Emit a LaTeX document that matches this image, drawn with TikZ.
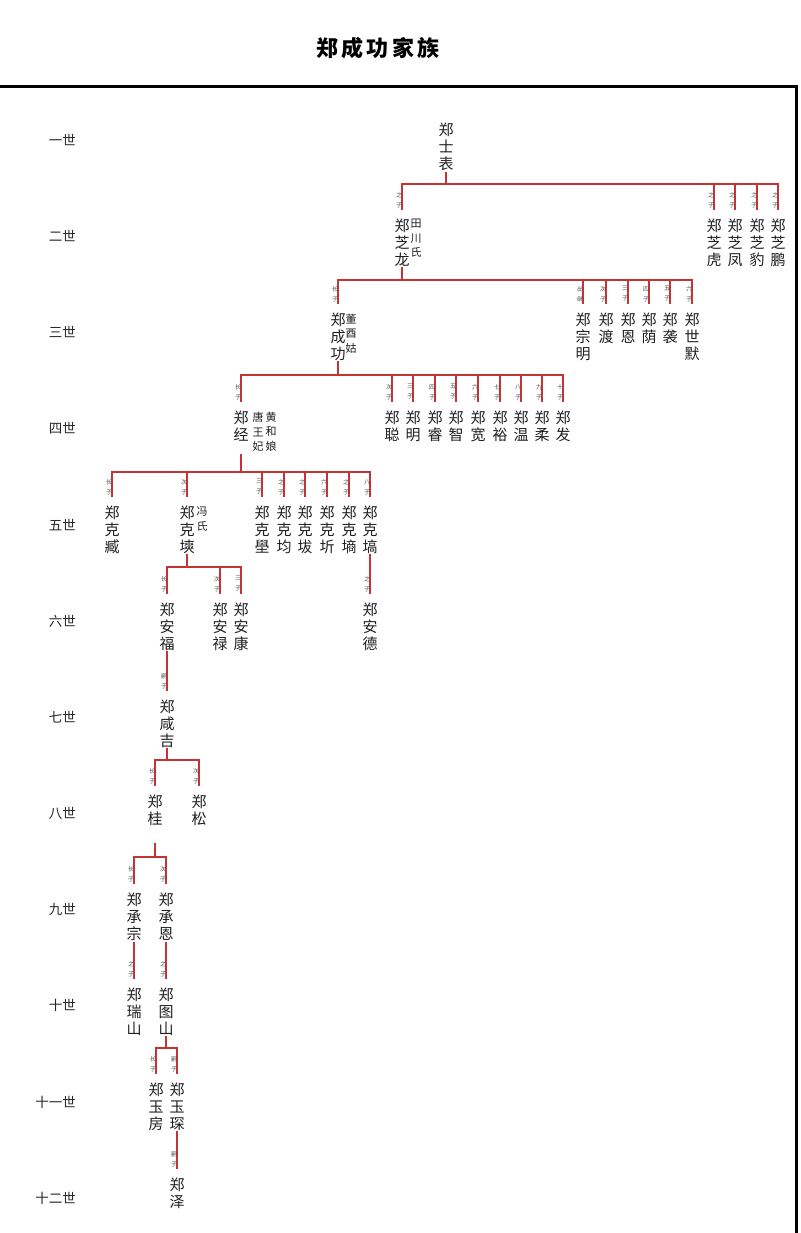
\documentclass[tikz,border=0pt]{standalone}
\usepackage{fontspec}
\setmainfont{Noto Sans CJK SC}
\usepackage{tikz}
\definecolor{kinred}{RGB}{196,52,52}

\begin{document}
\begin{tikzpicture}[x=1pt,y=-1pt,
    kin/.style={draw=kinred,line width=1.3pt,line cap=rect},
    nm/.style={anchor=north,inner sep=0pt,align=center,text=black!88,font=\fontsize{15}{17}\selectfont},
    mate/.style={anchor=north,inner sep=0pt,align=center,text=black!88,font=\fontsize{11}{14.5}\selectfont},
    ord/.style={inner sep=0pt,align=center,text=black!70,font=\fontsize{6}{10}\selectfont,xshift=-3pt,yshift=9pt},
    gen/.style={anchor=east,inner sep=0pt,text=black!85,font=\fontsize{13.5}{13.5}\selectfont}]
    \useasboundingbox (0,0) rectangle (800,1233);

    \node[font=\fontsize{22}{22}\selectfont\bfseries\addfontfeature{LetterSpace=14}] (title) at (378,48) {郑成功家族};
    \draw[line width=3pt] (0,87) -- (796,87) -- (796,1233);

    \foreach \t [count=\i] in {一世,二世,三世,四世,五世,六世,七世,八世,九世,十世,十一世,十二世}
        \node[gen] (gen-\i) at (76,{140+96.2*(\i-1)}) {\t};

    \node[nm] (shibiao) at (446,122.5) {郑\\士\\表};

    \node[nm] (zhilong) at (402,218.5) {郑\\芝\\龙};
    \node[mate] (tianchuan) at (416,219) {田\\川\\氏};
    \node[nm] (zhihu) at (714,218.5) {郑\\芝\\虎};
    \node[nm] (zhifeng) at (735,218.5) {郑\\芝\\凤};
    \node[nm] (zhibao) at (757,218.5) {郑\\芝\\豹};
    \node[nm] (zhipeng) at (778,218.5) {郑\\芝\\鹏};

    \node[nm] (chenggong) at (338,312.5) {郑\\成\\功};
    \node[mate] (dongyou) at (351,314) {董\\酉\\姑};
    \node[nm] (zongming) at (583,312.5) {郑\\宗\\明};
    \node[nm] (du) at (606,312.5) {郑\\渡};
    \node[nm] (en) at (628,312.5) {郑\\恩};
    \node[nm] (yin) at (649,312.5) {郑\\荫};
    \node[nm] (xi) at (670,312.5) {郑\\袭};
    \node[nm] (shimo) at (692,312.5) {郑\\世\\默};

    \node[nm] (jing) at (241,410.5) {郑\\经};
    \node[mate] (tangwang) at (258,412) {唐\\王\\妃};
    \node[mate] (huanghe) at (271,412) {黄\\和\\娘};
    \node[nm] (cong) at (392,410.5) {郑\\聪};
    \node[nm] (ming) at (413,410.5) {郑\\明};
    \node[nm] (rui) at (435,410.5) {郑\\睿};
    \node[nm] (zhi) at (456,410.5) {郑\\智};
    \node[nm] (kuan) at (478,410.5) {郑\\宽};
    \node[nm] (yu) at (500,410.5) {郑\\裕};
    \node[nm] (wen) at (521,410.5) {郑\\温};
    \node[nm] (rou) at (542,410.5) {郑\\柔};
    \node[nm] (fa) at (563,410.5) {郑\\发};

    \node[nm] (kezang) at (112,505.5) {郑\\克\\臧};
    \node[nm] (keshuang) at (187,505.5) {郑\\克\\塽};
    \node[mate] (fengshi) at (202,507) {冯\\氏};
    \node[nm] (kexue) at (262,505.5) {郑\\克\\壆};
    \node[nm] (kejun) at (284,505.5) {郑\\克\\均};
    \node[nm] (keba) at (305,505.5) {郑\\克\\坺};
    \node[nm] (keqi) at (327,505.5) {郑\\克\\圻};
    \node[nm] (keshang) at (349,505.5) {郑\\克\\墒};
    \node[nm] (kehe) at (370,505.5) {郑\\克\\塙};

    \node[nm] (anfu) at (167,602.5) {郑\\安\\福};
    \node[nm] (anlu) at (220,602.5) {郑\\安\\禄};
    \node[nm] (ankang) at (241,602.5) {郑\\安\\康};
    \node[nm] (ande) at (370,602.5) {郑\\安\\德};

    \node[nm] (xianji) at (167,699.5) {郑\\咸\\吉};

    \node[nm] (gui) at (155,794.5) {郑\\桂};
    \node[nm] (song) at (199,794.5) {郑\\松};

    \node[nm] (chengzong) at (134,892.5) {郑\\承\\宗};
    \node[nm] (chengen) at (166,892.5) {郑\\承\\恩};

    \node[nm] (ruishan) at (134,987.5) {郑\\瑞\\山};
    \node[nm] (tushan) at (166,987.5) {郑\\图\\山};

    \node[nm] (yufang) at (156,1082.5) {郑\\玉\\房};
    \node[nm] (yuchen) at (177,1082.5) {郑\\玉\\琛};

    \node[nm] (ze) at (177,1177.5) {郑\\泽};

    \coordinate (b1) at (0,184);
    \coordinate (b2) at (0,280);
    \coordinate (b3) at (0,375);
    \coordinate (b4) at (0,472);
    \coordinate (b5) at (0,567);
    \coordinate (b7) at (0,760);
    \coordinate (b8) at (0,857);
    \coordinate (b10) at (0,1048);

    \draw[kin] ([yshift=-2pt]shibiao.south) -- (shibiao |- b1);
    \draw[kin] (zhilong |- b1) -- (zhipeng |- b1);
    \foreach \c/\o in {zhilong/之\\子,zhihu/之\\子,zhifeng/之\\子,zhibao/之\\子,zhipeng/之\\子}
        \draw[kin] (\c |- b1) -- ([yshift=9.5pt]\c.north) node[ord] (o-\c) {\o};

    \draw[kin] ([yshift=-1pt]zhilong.south) -- (zhilong |- b2);
    \draw[kin] (chenggong |- b2) -- (shimo |- b2);
    \foreach \c/\o in {chenggong/长\\子,zongming/出\\继,du/次\\子,en/三\\子,yin/四\\子,xi/五\\子,shimo/六\\子}
        \draw[kin] (\c |- b2) -- ([yshift=9.5pt]\c.north) node[ord] (o-\c) {\o};

    \draw[kin] ([yshift=-1pt]chenggong.south) -- (chenggong |- b3);
    \draw[kin] (jing |- b3) -- (fa |- b3);
    \foreach \c/\o in {jing/长\\子,cong/次\\子,ming/三\\子,rui/四\\子,zhi/五\\子,kuan/六\\子,yu/七\\子,wen/八\\子,rou/九\\子,fa/十\\子}
        \draw[kin] (\c |- b3) -- ([yshift=9.5pt]\c.north) node[ord] (o-\c) {\o};

    \draw[kin] ([yshift=-13pt]jing.south) -- (jing |- b4);
    \draw[kin] (kezang |- b4) -- (kehe |- b4);
    \foreach \c/\o in {kezang/长\\子,keshuang/次\\子,kexue/三\\子,kejun/之\\子,keba/之\\子,keqi/六\\子,keshang/之\\子,kehe/八\\子}
        \draw[kin] (\c |- b4) -- ([yshift=9.5pt]\c.north) node[ord] (o-\c) {\o};

    \draw[kin] ([yshift=-1pt]keshuang.south) -- (keshuang |- b5);
    \draw[kin] (anfu |- b5) -- (ankang |- b5);
    \foreach \c/\o in {anfu/长\\子,anlu/次\\子,ankang/三\\子}
        \draw[kin] (\c |- b5) -- ([yshift=9.5pt]\c.north) node[ord] (o-\c) {\o};
    \draw[kin] ([yshift=-1pt]kehe.south) -- ([yshift=9.5pt]ande.north) node[ord] (o-ande) {之\\子};

    \draw[kin] ([yshift=-1pt]anfu.south) -- ([yshift=9.5pt]xianji.north) node[ord] (o-xianji) {嗣\\子};

    \draw[kin] ([yshift=-1pt]xianji.south) -- (xianji |- b7);
    \draw[kin] (gui |- b7) -- (song |- b7);
    \foreach \c/\o in {gui/长\\子,song/次\\子}
        \draw[kin] (\c |- b7) -- ([yshift=9.5pt]\c.north) node[ord] (o-\c) {\o};

    \draw[kin] ([yshift=-18pt]gui.south) -- (gui |- b8);
    \draw[kin] (chengzong |- b8) -- (chengen |- b8);
    \foreach \c/\o in {chengzong/长\\子,chengen/次\\子}
        \draw[kin] (\c |- b8) -- ([yshift=9.5pt]\c.north) node[ord] (o-\c) {\o};

    \draw[kin] ([yshift=-2pt]chengzong.south) -- ([yshift=9.5pt]ruishan.north) node[ord] (o-ruishan) {之\\子};
    \draw[kin] ([yshift=-2pt]chengen.south) -- ([yshift=9.5pt]tushan.north) node[ord] (o-tushan) {之\\子};

    \draw[kin] ([yshift=-1pt]tushan.south) -- (tushan |- b10);
    \draw[kin] (yufang |- b10) -- (yuchen |- b10);
    \foreach \c/\o in {yufang/长\\子,yuchen/嗣\\子}
        \draw[kin] (\c |- b10) -- ([yshift=9.5pt]\c.north) node[ord] (o-\c) {\o};

    \draw[kin] ([yshift=-1pt]yuchen.south) -- ([yshift=9.5pt]ze.north) node[ord] (o-ze) {嗣\\子};
\end{tikzpicture}
\end{document}
